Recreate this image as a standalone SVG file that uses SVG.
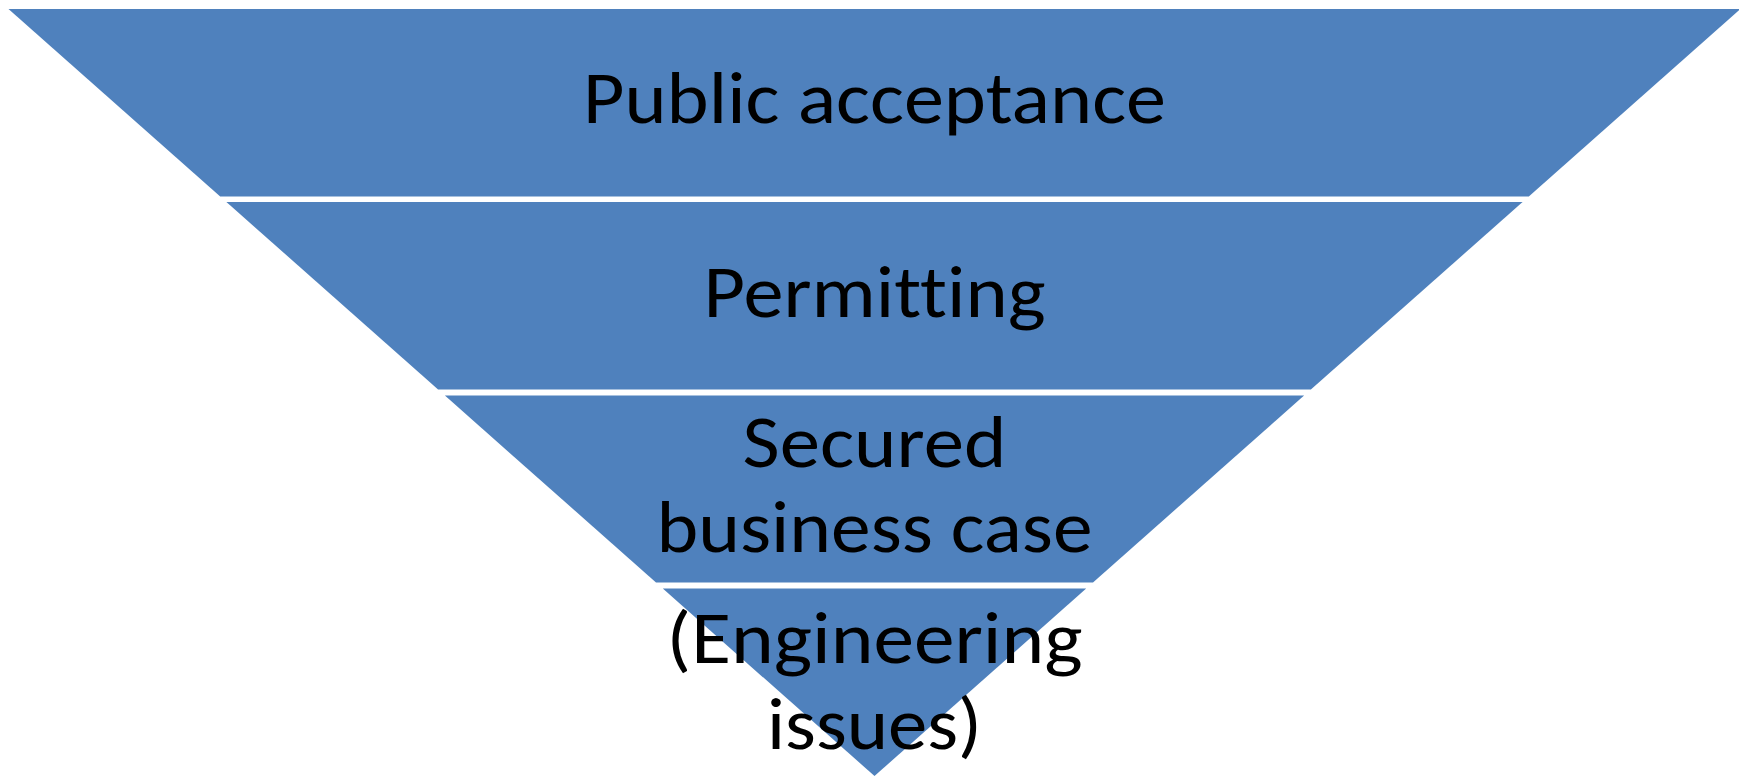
<svg xmlns="http://www.w3.org/2000/svg" width="1739" height="776" viewBox="0 0 1739 776">
<style>
.seg{fill:#4F81BD;stroke:none}
.lbl{font-family:Carlito,Lato,"Liberation Sans",sans-serif;font-size:75px;fill:#000;text-anchor:middle;font-variant-ligatures:none}
</style>
<rect width="1739" height="776" fill="#fff"/>
<g id="stage1">
<polygon class="seg" points="8.5,9 1740.5,9 1528.8,196.5 220.2,196.5"/>
<text class="lbl" x="874.5" y="123" textLength="583" lengthAdjust="spacingAndGlyphs">Public acceptance</text>
</g>
<g id="stage2">
<polygon class="seg" points="226.4,202 1522.6,202 1310.9,389.5 438.1,389.5"/>
<text class="lbl" x="874.5" y="317" textLength="342" lengthAdjust="spacingAndGlyphs">Permitting</text>
</g>
<g id="stage3">
<polygon class="seg" points="444.9,395.5 1304.1,395.5 1093,582.5 656,582.5"/>
<text class="lbl" x="874.5" y="467" textLength="264" lengthAdjust="spacingAndGlyphs">Secured</text>
<text class="lbl" x="874.5" y="552" textLength="436" lengthAdjust="spacingAndGlyphs">business case</text>
</g>
<g id="stage4">
<polygon class="seg" points="662.8,588.5 1086.2,588.5 874.5,776"/>
<text class="lbl" x="874.5" y="663" textLength="416" lengthAdjust="spacingAndGlyphs">(Engineering</text>
<text class="lbl" x="874.5" y="748.5" textLength="215" lengthAdjust="spacingAndGlyphs">issues)</text>
</g>
<g id="connectors"></g>
</svg>
